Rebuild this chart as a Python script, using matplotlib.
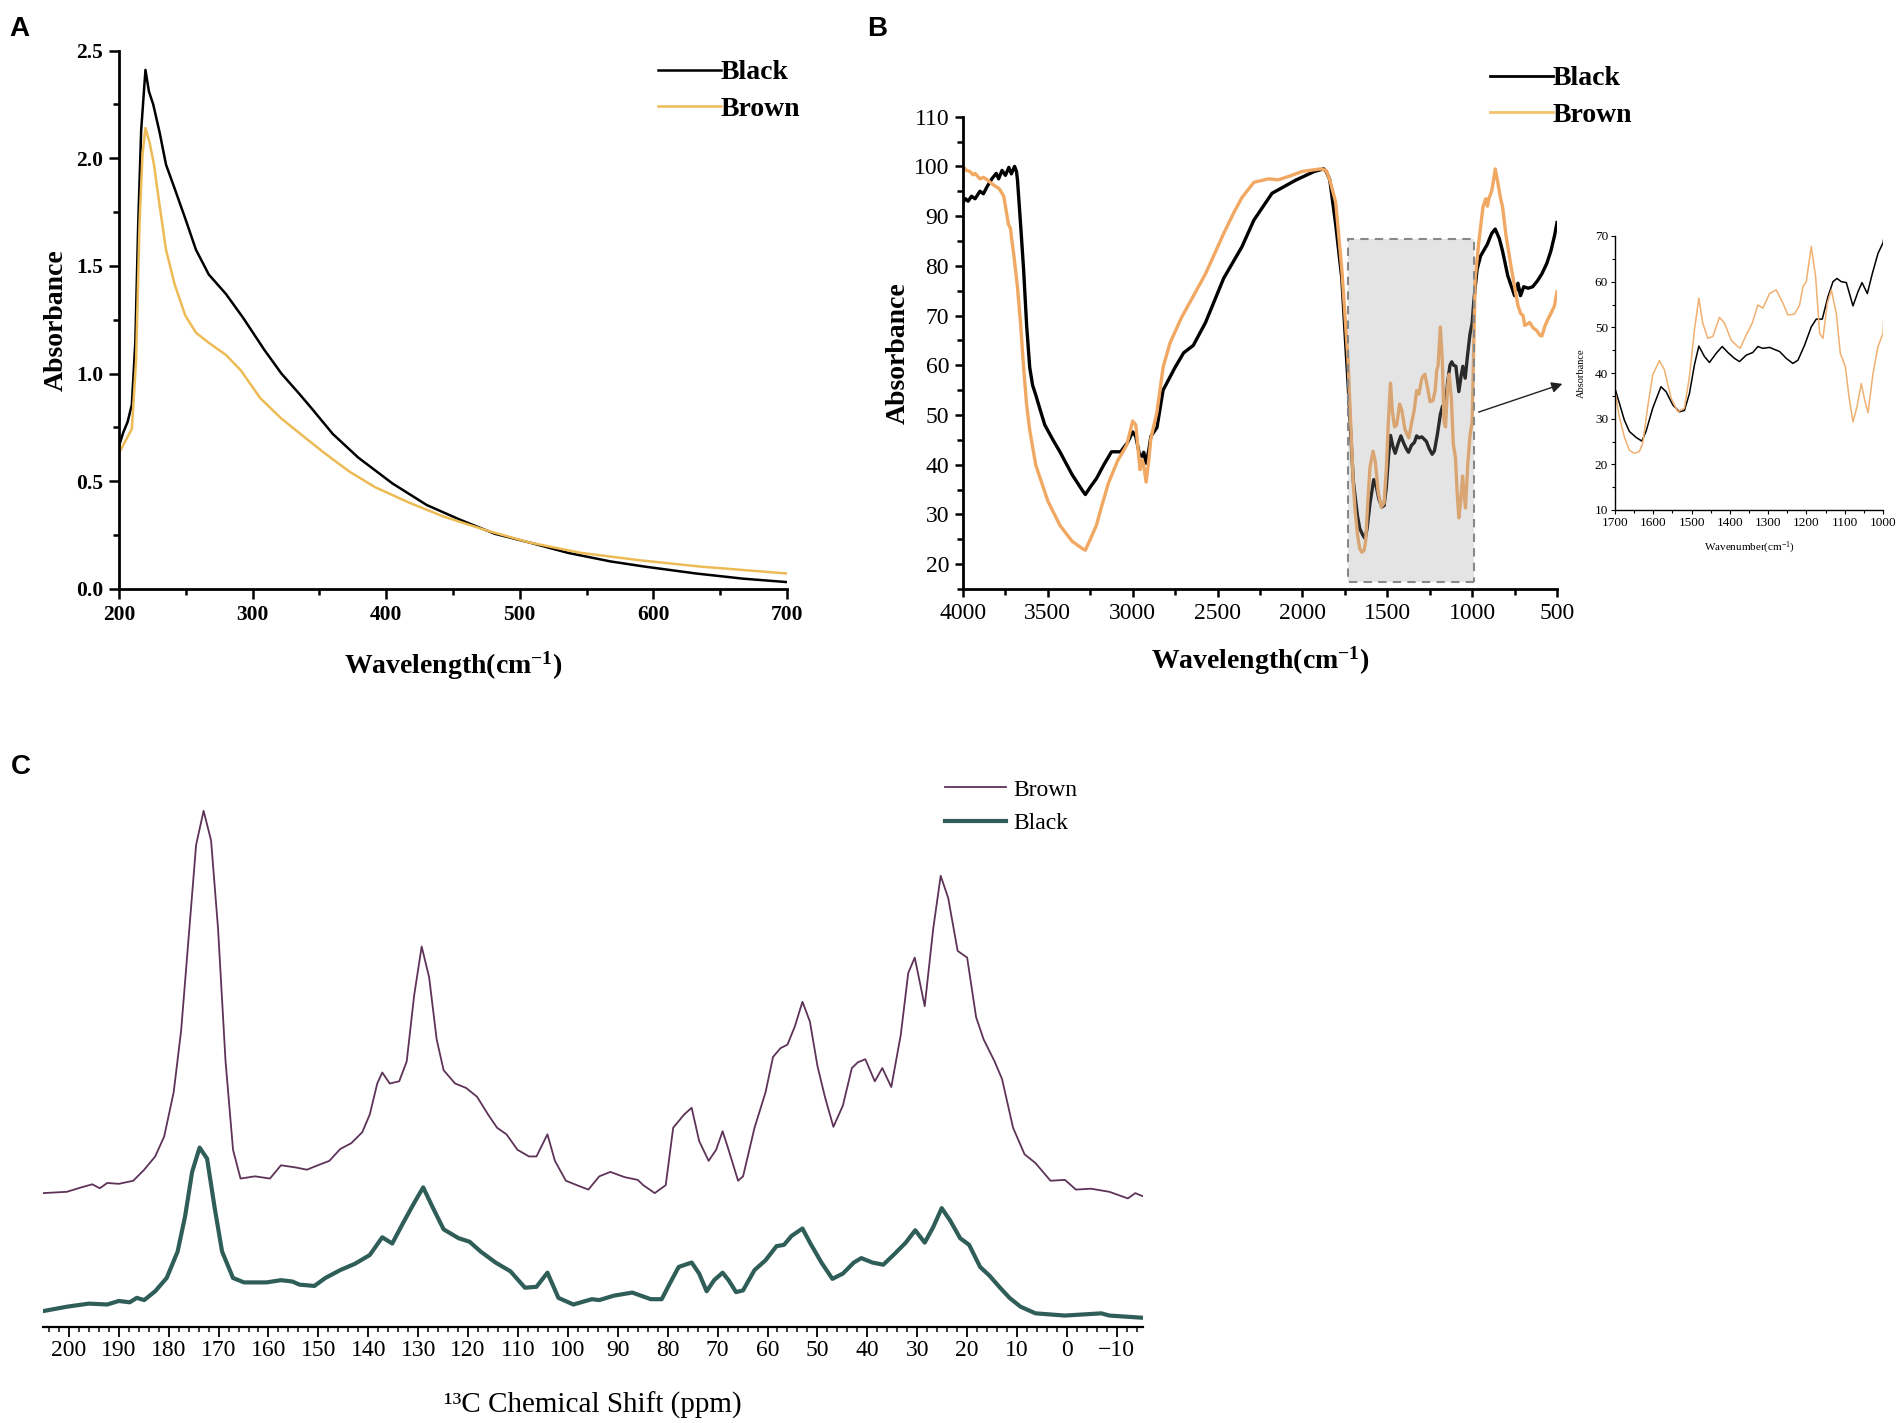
import matplotlib
matplotlib.use("Agg")
import matplotlib.pyplot as plt
from matplotlib.lines import Line2D
from matplotlib.patches import Rectangle
from matplotlib.ticker import MultipleLocator, FormatStrFormatter

plt.rcParams['font.family'] = ['Liberation Serif', 'DejaVu Serif']
plt.rcParams['mathtext.fontset'] = 'custom'
plt.rcParams['mathtext.rm'] = 'Liberation Serif'
plt.rcParams['mathtext.bf'] = 'Liberation Serif:bold'
plt.rcParams['mathtext.it'] = 'Liberation Serif:italic'

# ---------------- Panel A: UV-vis ----------------
uv_black_x = [200, 203.2, 206.4, 209.6, 212.2, 214.4, 216.6, 219.8, 222.4, 225.6, 230.4, 235.2,
              241.6, 249.6, 257.6, 267.2, 280, 292.8, 308.8, 321.6, 334.4, 344, 360, 379.1,
              404.7, 430.3, 455.9, 481.5, 507.1, 535.9, 567.9, 593.5, 631.9, 667.1, 700]
uv_black_y = [0.663, 0.727, 0.775, 0.855, 1.143, 1.70, 2.13, 2.41, 2.31, 2.25, 2.12, 1.97,
              1.86, 1.72, 1.575, 1.46, 1.37, 1.26, 1.11, 1.00, 0.91, 0.84, 0.72, 0.61,
              0.49, 0.39, 0.32, 0.256, 0.216, 0.168, 0.128, 0.104, 0.072, 0.048, 0.032]
uv_brown_x = [200, 204.8, 209.6, 212.8, 215.4, 217.6, 219.8, 223, 226.2, 230.4, 235.2, 241.6,
              249.6, 257.6, 267.2, 280, 291.2, 305.6, 321.6, 337.6, 353.6, 372.7, 391.9,
              417.5, 443.1, 475.1, 507.1, 545.5, 590.3, 635.1, 700]
uv_brown_y = [0.631, 0.687, 0.743, 1.063, 1.70, 2.02, 2.14, 2.07, 1.97, 1.78, 1.575, 1.415,
              1.27, 1.19, 1.143, 1.087, 1.015, 0.887, 0.791, 0.711, 0.632, 0.544, 0.472,
              0.40, 0.336, 0.272, 0.216, 0.168, 0.133, 0.104, 0.072]

# ---------------- Panel B: FTIR ----------------
ir_black_x = [4000, 3985, 3970, 3950, 3929, 3900, 3880, 3857, 3830, 3804, 3790, 3770, 3750, 3730,
              3715, 3696, 3685, 3679, 3660, 3643, 3625, 3607, 3590, 3571, 3545, 3518, 3470, 3429,
              3357, 3300, 3279, 3250, 3214, 3170, 3125, 3071, 3030, 3000, 2982, 2960, 2946, 2935,
              2921, 2905, 2893, 2857, 2840, 2821, 2750, 2700, 2643, 2571, 2464, 2357, 2286, 2179,
              2036, 1929, 1875, 1860, 1839, 1804, 1768, 1732,
              1700, 1688.7, 1675.6, 1662.5, 1645, 1630, 1619, 1601.5, 1580, 1566.6, 1549, 1531.7,
              1518.7, 1505.6, 1492.5, 1481, 1466.3, 1453.3, 1435.8, 1420, 1405.3, 1387.9, 1374.8,
              1357.4, 1340, 1326.8, 1313.8, 1296.3, 1270, 1252.7, 1235.3, 1222.2, 1204.8, 1187.4,
              1174.3, 1158.6, 1143.8, 1130.7, 1120.2, 1108.9, 1095.8, 1078.4, 1065.3, 1054.8,
              1040.9, 1027.8, 1013, 1000,
              990, 971, 950, 911, 885, 864, 840, 821, 790, 770, 750, 730, 715, 696, 670, 643, 615,
              589, 560, 536, 515, 500]
ir_black_y = [92.8, 93.5, 93.0, 94.0, 93.5, 95.0, 94.5, 96.0, 97.5, 98.6, 97.5, 99.2, 98.2, 99.8,
              98.5, 100.0, 99.0, 97.3, 88.0, 79.3, 68.0, 59.6, 56.0, 54.0, 51.0, 48.0, 45.0, 42.6,
              38.0, 35.0, 34.0, 35.5, 37.2, 40.0, 42.6, 42.6, 44.5, 46.6, 45.7, 42.0, 41.7, 42.5,
              40.3, 43.0, 45.7, 47.5, 51.0, 55.0, 59.6, 62.5, 64.0, 68.6, 77.5, 83.8, 89.2, 94.6,
              97.3, 99.0, 99.5, 99.0, 97.3, 88.3, 77.5, 56.9,
              36.6, 33.4, 29.7, 27.2, 25.9, 25.1, 27.2, 32.3, 37.0, 35.9, 33.0, 31.5,
              31.8, 35.5, 41.8, 45.9, 43.6, 42.3, 44.3, 45.8, 44.5, 43.2, 42.5,
              43.9, 44.5, 45.8, 45.4, 45.6, 44.7, 43.2, 42.1, 42.8, 46.1, 50.1,
              51.8, 51.8, 56.7, 60.0, 60.7, 60.0, 59.8, 54.7, 57.8, 59.8,
              57.4, 61.8, 66.2, 68.5,
              73.0, 79.3, 82.0, 84.3, 86.5, 87.4, 85.5, 83.0, 78.0, 76.0, 74.0, 76.5, 74.0, 75.8,
              75.5, 75.8, 77.0, 78.4, 80.5, 83.0, 86.0, 88.7]

ir_brown_x = [4000, 3980, 3960, 3940, 3929, 3900, 3880, 3857, 3830, 3800, 3786, 3760, 3745, 3732,
              3720, 3714, 3700, 3679, 3660, 3643, 3625, 3607, 3571, 3500, 3429, 3357, 3300, 3279,
              3250, 3214, 3180, 3143, 3089, 3036, 3000, 2982, 2965, 2957, 2945, 2936, 2921, 2905,
              2893, 2857, 2821, 2780, 2714, 2650, 2571, 2464, 2400, 2357, 2286, 2200, 2143, 2080,
              2000, 1893, 1860, 1839, 1804, 1768, 1732,
              1700, 1688.7, 1675.6, 1662.5, 1649.4, 1636.4, 1627.6, 1614.6, 1601.5, 1584, 1571,
              1553.5, 1536, 1518.7, 1505.6, 1492.5, 1481, 1470.7, 1457.6, 1444.5, 1427.1, 1414,
              1396.6, 1383.5, 1373.1, 1357.4, 1341.7, 1326.8, 1313.8, 1296.3, 1278.9, 1261.5,
              1248.4, 1231, 1217.9, 1209.1, 1200.4, 1187.4, 1176, 1165.6, 1156.8, 1145.5, 1135,
              1122, 1111.5, 1098.4, 1088.8, 1078.4, 1067.9, 1056.6, 1047.9, 1039.1, 1026.1, 1013,
              1000,
              982, 960, 936, 920, 910, 900, 885, 875, 864, 850, 835, 821, 800, 768, 740, 730, 714,
              700, 690, 661, 640, 620, 600, 589, 570, 550, 536, 515, 500]
ir_brown_y = [100.0, 99.2, 99.0, 98.3, 98.6, 97.5, 97.8, 97.3, 96.5, 95.8, 95.5, 94.0, 91.0, 88.3,
              87.5, 85.6, 82.0, 75.7, 68.0, 59.6, 52.0, 47.0, 39.9, 32.7, 27.8, 24.6, 23.2, 22.8,
              25.0, 27.8, 32.0, 36.3, 40.8, 43.9, 48.8, 48.0, 42.0, 39.0, 41.0, 40.0, 36.5, 41.0,
              45.3, 50.6, 59.6, 64.5, 69.5, 73.5, 78.4, 86.5, 91.0, 93.7, 96.8, 97.5, 97.3, 98.0,
              99.0, 99.5, 99.2, 97.3, 92.8, 79.3, 61.4,
              35.9, 30.4, 26.0, 23.1, 22.4, 22.8, 24.6, 32.6, 39.6, 42.7, 40.7,
              34.5, 31.5, 32.3, 39.2, 49.4, 56.4, 50.9, 47.6, 48.0, 52.2, 50.9,
              47.2, 46.1, 45.4, 48.3, 50.9, 54.9, 54.2, 57.4, 58.2, 55.3,
              52.7, 52.9, 54.9, 58.9, 60.0, 67.7, 61.1, 48.7, 47.6, 55.3, 58.2,
              53.1, 44.3, 41.4, 34.8, 29.3, 32.6, 37.7, 34.1, 31.3, 39.9, 45.8,
              48.7,
              77.5, 85.0, 91.9, 93.5, 92.0, 93.7, 95.0, 97.0, 99.5, 97.0, 94.0, 91.9, 86.0, 79.3,
              74.0, 72.0, 70.4, 70.0, 68.0, 68.6, 67.5, 67.0, 66.0, 65.9, 68.0, 69.5, 70.4, 72.0,
              74.8]

# ---------------- Panel C: 13C NMR (arbitrary intensity) ----------------
nmr_brown_x = [205.2, 200.4, 197.5, 195.3, 193.8, 192.3, 190, 187.1, 184.9, 182.7, 180.9, 179,
               177.5, 176, 174.5, 173, 171.5, 170.1, 168.6, 167.1, 165.6, 162.7, 159.7, 157.5,
               154.5, 152.3, 150.1, 147.8, 145.6, 143.4, 141.2, 139.7, 138.2, 137.2, 135.7, 133.8,
               132.3, 130.8, 129.3, 127.8, 126.3, 124.9, 122.6, 120.4, 118.2, 116, 114.2, 112.3,
               110.1, 107.8, 106.3, 104.1, 102.6, 100.4, 98.2, 95.9, 93.7, 91.5, 88.6, 86, 84.9,
               82.6, 80.4, 78.9, 76.7, 75.2, 73.7, 71.8, 70.3, 69, 67.8, 65.9, 64.9, 62.6, 60.4,
               58.9, 57.4, 56, 54.5, 53, 51.5, 50, 48.5, 46.8, 44.9, 43.1, 41.9, 40.4, 38.5, 37,
               35.2, 33.3, 31.8, 30.5, 28.5, 26.8, 25.3, 23.8, 21.9, 20, 18.2, 16.7, 14.5, 13,
               10.8, 8.5, 6.3, 3.3, 0.4, -1.8, -4.8, -8.5, -12.2, -13.7, -15.2]
nmr_brown_y = [302, 305, 315, 322, 313, 325, 323, 330, 355, 385, 430, 530,
               670, 880, 1090, 1167, 1100, 900, 600, 400, 335, 340, 335, 365,
               360, 355, 365, 375, 402, 415, 440, 480, 550, 575, 550, 555,
               600, 750, 860, 790, 650, 580, 550, 540, 520, 480, 450, 435,
               400, 385, 385, 435, 375, 330, 320, 310, 340, 350, 338, 332, 320,
               302, 320, 450, 480, 495, 420, 375, 400, 442, 400, 330, 340, 450, 530,
               610, 630, 638, 680, 735, 690, 590, 520, 452, 500, 585, 598, 605, 555, 585,
               542, 660, 800, 835, 725, 900, 1020, 970, 850, 835, 700, 650, 600, 560,
               450, 390, 370, 330, 332, 310, 312, 305, 290, 302, 295]

nmr_black_x = [205.2, 200.4, 196, 192.3, 190, 187.8, 186.4, 184.9, 182.7, 180.4, 178.2, 176.7,
               175.3, 173.8, 172.3, 170.8, 169.3, 167.1, 164.9, 160.4, 157.5, 155.2, 153.8,
               150.8, 148.6, 145.6, 142.7, 139.7, 137.2, 135.2, 133, 130.8, 129, 127.1, 124.9,
               121.9, 119.7, 117.5, 114.5, 111.5, 108.6, 106.3, 104.1, 101.9, 98.9, 95.2, 93.7,
               90.8, 87.1, 83.4, 81.2, 79.7, 77.8, 75.2, 73.7, 72.2, 70.7, 69, 67.8, 66.3, 64.9,
               62.6, 60.4, 58.2, 56.7, 55.2, 53, 51.5, 49.2, 47, 44.9, 42.7, 41.2, 39, 36.8,
               34.5, 32.3, 30.4, 28.5, 26.8, 25.1, 23.4, 21.4, 19.6, 17.4, 15.5, 13.4, 11.5, 9.3,
               6.3, 0.4, -6.9, -8.5, -15.2]
nmr_black_y = [35, 45, 52, 50, 58, 55, 65, 60, 80, 110, 170, 250,
               350, 405, 380, 270, 170, 110, 100, 100, 105, 102, 95,
               92, 110, 128, 142, 162, 202, 188, 235, 280, 315, 270, 220,
               200, 192, 170, 145, 125, 88, 90, 122, 65, 50, 62, 60,
               70, 77, 62, 62, 95, 135, 145, 120, 80, 105, 122, 105, 78, 82,
               128, 150, 182, 185, 205, 222, 190, 145, 108, 120, 145, 155, 145, 140,
               165, 190, 218, 190, 225, 268, 240, 200, 185, 135, 115, 88, 65, 45,
               30, 25, 30, 25, 20]

W, H = 1902, 1423
fig = plt.figure(figsize=(W / 100, H / 100), dpi=100)


def rect(l, r, t, b):
    return [l / W, 1 - b / H, (r - l) / W, (b - t) / H]


# ---------- A ----------
axA = fig.add_axes(rect(119, 787, 50.5, 589))
axA.plot(uv_black_x, uv_black_y, color='black', lw=1.8, label='Black')
axA.plot(uv_brown_x, uv_brown_y, color='#EDBB55', lw=1.8, label='Brown')
axA.set_xlim(200, 700)
axA.set_ylim(0, 2.5)
axA.xaxis.set_major_locator(MultipleLocator(100))
axA.xaxis.set_minor_locator(MultipleLocator(50))
axA.yaxis.set_major_locator(MultipleLocator(0.5))
axA.yaxis.set_minor_locator(MultipleLocator(0.25))
axA.yaxis.set_major_formatter(FormatStrFormatter('%.1f'))
for s in ['top', 'right']:
    axA.spines[s].set_visible(False)
for s in ['left', 'bottom']:
    axA.spines[s].set_linewidth(2)
axA.tick_params(which='major', direction='out', length=7.5, width=1.8, labelsize=15.5, pad=4)
axA.tick_params(which='minor', direction='out', length=4.5, width=1.8)
for lab in axA.get_xticklabels() + axA.get_yticklabels():
    lab.set_fontweight('bold')
axA.set_xlabel(r'Wavelength(cm$^{\mathbf{-1}}$)', fontsize=20, fontweight='bold', labelpad=18)
axA.set_ylabel('Absorbance', fontsize=20, fontweight='bold', labelpad=5)
axA.legend(loc='upper left', bbox_to_anchor=(658 / W, 1 - 60 / H), bbox_transform=fig.transFigure,
           frameon=False, borderpad=0, borderaxespad=0, handlelength=2.25, handletextpad=0,
           labelspacing=0.4, prop=dict(family='Liberation Serif', weight='bold', size=20))

# ---------- B ----------
axB = fig.add_axes(rect(963, 1557, 116.7, 589))
axB.plot(ir_black_x, ir_black_y, color='black', lw=2.4, zorder=2)
axB.plot(ir_brown_x, ir_brown_y, color='#F0A862', lw=2.4, zorder=2)
axB.add_patch(Rectangle((990, 16.4), 740, 69, facecolor=(0.62, 0.62, 0.62, 0.27),
                        edgecolor='#888888', linestyle=(0, (4, 3)), lw=1.5, zorder=3))
axB.set_xlim(4000, 500)
axB.set_ylim(15, 110)
axB.xaxis.set_major_locator(MultipleLocator(500))
axB.xaxis.set_minor_locator(MultipleLocator(250))
axB.yaxis.set_major_locator(MultipleLocator(10))
axB.yaxis.set_minor_locator(MultipleLocator(5))
for s in ['top', 'right']:
    axB.spines[s].set_visible(False)
for s in ['left', 'bottom']:
    axB.spines[s].set_linewidth(2)
axB.tick_params(which='major', direction='out', length=6, width=1.8, labelsize=17, pad=4)
axB.tick_params(which='minor', direction='out', length=4, width=1.8)
axB.set_xlabel(r'Wavelength(cm$^{\mathbf{-1}}$)', fontsize=20, fontweight='bold', labelpad=15)
axB.set_ylabel('Absorbance', fontsize=20, fontweight='bold', labelpad=2)
handlesB = [Line2D([], [], color='black', lw=2), Line2D([], [], color='#F2C46D', lw=2)]
axB.legend(handlesB, ['Black', 'Brown'], loc='upper left',
           bbox_to_anchor=(1490 / W, 1 - 66 / H), bbox_transform=fig.transFigure,
           frameon=False, borderpad=0, borderaxespad=0, handlelength=2.25, handletextpad=0,
           labelspacing=0.4, prop=dict(family='Liberation Serif', weight='bold', size=20))

# ---------- Inset ----------
axI = fig.add_axes(rect(1615, 1883, 236, 510))
axI.plot(ir_black_x, ir_black_y, color='black', lw=1.1)
axI.plot(ir_brown_x, ir_brown_y, color='#F0B070', lw=1.1)
axI.set_xlim(1700, 1000)
axI.set_ylim(10, 70)
axI.xaxis.set_major_locator(MultipleLocator(100))
axI.xaxis.set_minor_locator(MultipleLocator(50))
axI.yaxis.set_major_locator(MultipleLocator(10))
axI.yaxis.set_minor_locator(MultipleLocator(5))
for s in ['top', 'right']:
    axI.spines[s].set_visible(False)
for s in ['left', 'bottom']:
    axI.spines[s].set_linewidth(1)
axI.tick_params(which='major', direction='out', length=3, width=0.8, labelsize=9.5, pad=2)
axI.tick_params(which='minor', direction='out', length=2, width=0.8)
axI.set_xlabel(r'Wavenumber(cm$^{-1}$)', fontsize=8, labelpad=8)
axI.set_ylabel('Absorbance', fontsize=7.5, labelpad=6)

fig.add_artist(matplotlib.patches.FancyArrowPatch(
    (1476 / W, 1 - 413 / H), (1565 / W, 1 - 383 / H), transform=fig.transFigure,
    arrowstyle='-|>', mutation_scale=16, lw=1, color='#222222'))

# ---------- C ----------
axC = fig.add_axes(rect(42.9, 1142.8, 760, 1326.6))
axC.plot(nmr_brown_x, nmr_brown_y, color='#5E3358', lw=1.3, label='Brown')
axC.plot(nmr_black_x, nmr_black_y, color='#2F5E58', lw=3, label='Black')
axC.set_xlim(205.2, -15.2)
axC.set_ylim(0, 1282)
axC.xaxis.set_major_locator(MultipleLocator(10))
axC.xaxis.set_minor_locator(MultipleLocator(2))
axC.xaxis.set_major_formatter(matplotlib.ticker.FuncFormatter(
    lambda v, p: ('\u2212%d' % -v) if v < 0 else '%d' % v))
for s in ['top', 'right', 'left']:
    axC.spines[s].set_visible(False)
axC.spines['bottom'].set_linewidth(1.6)
axC.set_yticks([])
axC.tick_params(axis='x', which='major', direction='out', length=7, width=1.3, labelsize=17, pad=3)
axC.tick_params(axis='x', which='minor', direction='out', length=3.5, width=1.1)
axC.set_xlabel('\u00b9\u00b3C Chemical Shift (ppm)', fontsize=21, labelpad=22)
axC.legend(loc='upper left', bbox_to_anchor=(945 / W, 1 - 779 / H), bbox_transform=fig.transFigure,
           frameon=False, borderpad=0, borderaxespad=0, handlelength=2.6, handletextpad=0.3,
           labelspacing=0.5, prop=dict(family='Liberation Serif', size=17))

# ---------- Panel letters ----------
for letter, x, y in [('A', 9, 16), ('B', 867, 16), ('C', 11, 754)]:
    fig.text(x / W, 1 - y / H, letter, fontsize=20, fontweight='bold',
             family=['Liberation Sans', 'DejaVu Sans'], va='top', ha='left')

fig.savefig('out.png', dpi=100)
